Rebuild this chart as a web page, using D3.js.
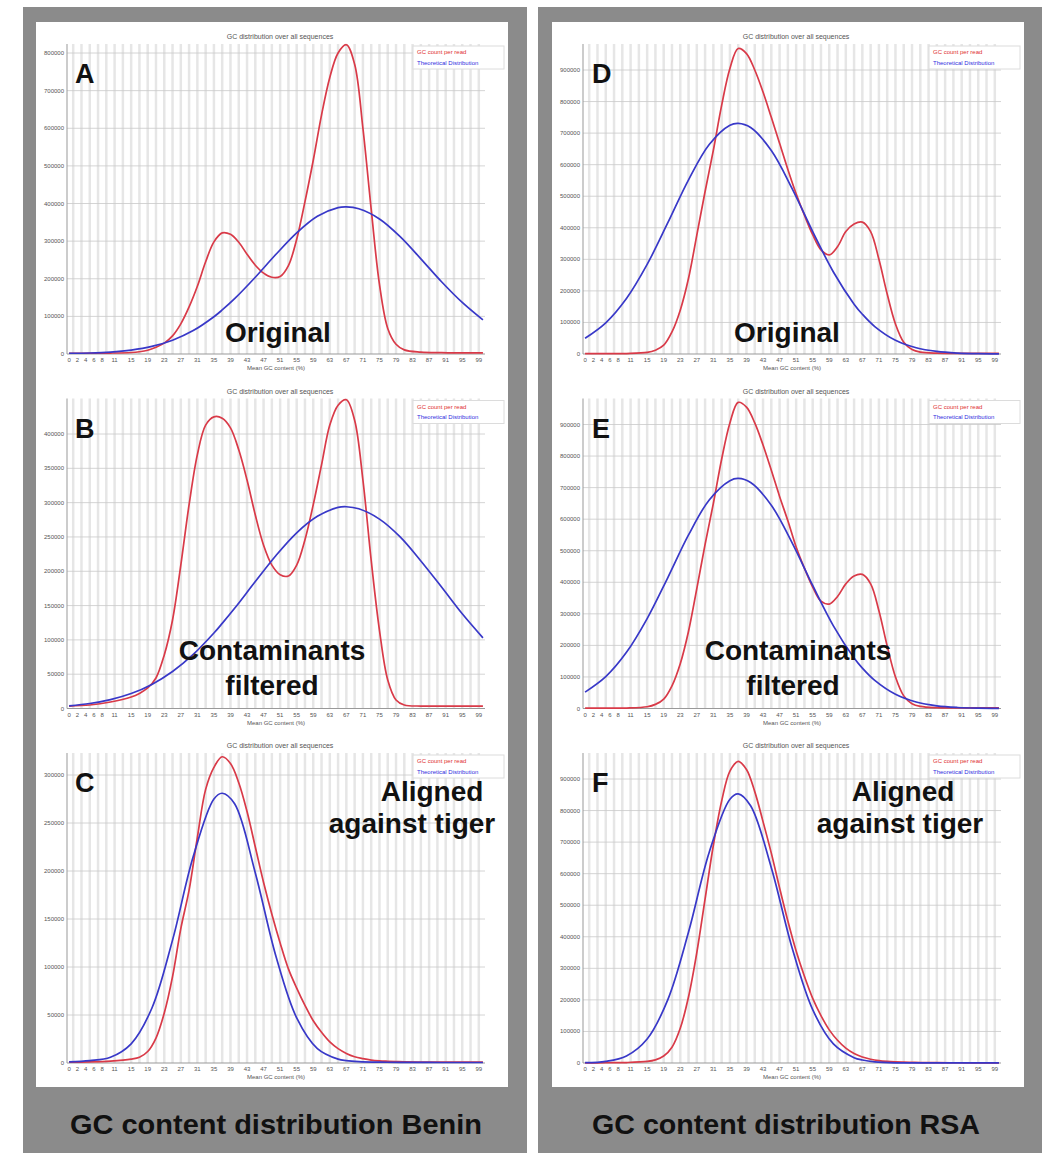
<!DOCTYPE html>
<html>
<head>
<meta charset="utf-8">
<script src="https://d3js.org/d3.v7.min.js"></script>
<style>
  body { margin: 0; background: #fff; }
  svg { display: block; }
</style>
</head>
<body>
<script>
/*
GC content distribution, Benin vs RSA
1. Data
2. Layout of the two grey panels
3. One FastQC style line chart per letter
*/

/////////////////////////////////////////////////////////////////////////////

/*
1. Data
*/

// x tick labels shown under every plot (mean GC %)
const gcLabels = [0, 2, 4, 6, 8, 11, 15, 19, 23, 27, 31, 35, 39, 43, 47, 51, 55, 59, 63, 67, 71, 75, 79, 83, 87, 91, 95, 99];

// GC % where the red curve was read
const redGc = [0, 5, 10, 15, 17, 19, 21, 23, 25, 27, 29, 31, 33, 35, 37, 39, 41, 43, 45, 47, 49, 51, 53, 55, 57, 59, 61, 63, 65, 67, 69, 71, 73, 75, 77, 79, 81, 85, 90, 95, 100];
// GC % where the blue (theoretical) curve was read
const blueGc = [0, 5, 10, 15, 20, 25, 30, 35, 37, 40, 45, 50, 55, 60, 65, 67, 70, 75, 80, 85, 90, 95, 100];

// Benin
const redA = [2000, 2000, 2500, 4000, 6000, 10000, 18000, 29000, 48000, 80000, 125000, 180000, 245000, 298000, 322000, 318000, 297000, 265000, 236000, 215000, 204000, 206000, 235000, 305000, 405000, 515000, 635000, 735000, 800000, 822000, 770000, 600000, 385000, 185000, 68000, 26000, 11000, 5000, 3500, 3000, 3000];
const blueA = [2000, 2600, 5000, 10400, 20200, 36600, 62200, 99000, 117000, 147000, 204000, 265000, 322000, 366000, 389000, 391000, 386000, 359000, 312000, 253000, 192000, 137000, 90500];

const redB = [3600, 5100, 9500, 16800, 22000, 29900, 44500, 78000, 129000, 209000, 297000, 370000, 413000, 425000, 423000, 409000, 377000, 333000, 282000, 238000, 209000, 195000, 193000, 209000, 246000, 297000, 355000, 413000, 442000, 450000, 420000, 333000, 216000, 114000, 41500, 12400, 5100, 3600, 3600, 3600, 3600];
const blueB = [3900, 7300, 13000, 21800, 35100, 53900, 78800, 110000, 124000, 146000, 185000, 223000, 256000, 280000, 293000, 294000, 291000, 276000, 250000, 215000, 177000, 138000, 103000];

const redC = [1000, 1200, 2000, 4000, 6000, 12000, 26000, 52000, 90000, 140000, 180000, 235000, 285000, 308000, 319000, 312000, 292000, 262000, 225000, 188000, 155000, 125000, 98000, 78000, 60000, 44000, 32000, 22000, 15000, 10000, 6500, 4500, 3000, 2200, 1800, 1500, 1300, 1000, 1000, 1000, 1000];
const blueC = [1200, 2500, 6000, 20000, 57000, 128000, 215000, 275000, 281000, 270000, 198000, 111000, 47000, 15000, 4000, 2500, 1500, 900, 700, 600, 500, 500, 500];

// RSA
const redD = [1000, 1000, 1500, 5000, 12000, 28000, 70000, 139000, 240000, 377000, 515000, 646000, 788000, 905000, 968000, 952000, 900000, 830000, 750000, 668000, 585000, 508000, 440000, 378000, 330000, 314000, 340000, 388000, 412000, 418000, 388000, 300000, 190000, 95000, 37000, 14000, 6000, 2500, 2000, 2000, 2000];
const blueD = [50000, 99000, 176000, 284000, 416000, 552000, 664000, 725000, 731000, 718000, 645000, 525000, 388000, 260000, 158000, 126000, 87000, 43500, 19700, 8100, 3000, 1000, 500];

const redE = [1000, 1000, 1500, 5500, 13000, 30000, 72000, 142000, 245000, 380000, 520000, 650000, 790000, 905000, 970000, 955000, 905000, 835000, 755000, 672000, 595000, 512000, 445000, 385000, 340000, 331000, 355000, 395000, 420000, 425000, 395000, 310000, 198000, 100000, 40000, 15000, 6500, 2500, 2000, 2000, 2000];
const blueE = [52000, 101000, 178000, 285000, 415000, 550000, 661000, 722000, 729000, 716000, 644000, 526000, 390000, 262000, 160000, 128000, 89000, 45000, 20500, 8500, 3200, 1100, 500];

const redF = [500, 800, 1500, 5000, 10000, 22000, 50000, 110000, 210000, 350000, 520000, 690000, 830000, 925000, 956000, 930000, 860000, 765000, 665000, 555000, 450000, 355000, 275000, 205000, 150000, 105000, 72000, 47000, 30000, 19000, 12000, 7500, 5000, 3500, 2500, 2000, 1500, 1000, 800, 700, 600];
const blueF = [900, 5100, 22300, 76000, 201000, 415000, 668000, 836000, 853000, 815000, 619000, 366000, 169000, 60500, 16900, 9500, 3700, 600, 200, 200, 200, 200, 200];

const panelTitles = ["GC content distribution Benin", "GC content distribution RSA"];

/////////////////////////////////////////////////////////////////////////////

/*
2. Layout
*/

const W = 1045, H = 1153;
const rowStep = 354.5;      // vertical distance between the three plots
const panelShift = 516;     // right panel is the left one moved across

const svg = d3.select("body").append("svg")
  .attr("width", W)
  .attr("height", H)
  .attr("viewBox", `0 0 ${W} ${H}`);

// grey frames with white insides
[0, 1].forEach(p => {
  const dx = p * panelShift;
  svg.append("rect")
    .attr("x", 23 + dx - (p ? 1 : 0)).attr("y", 7)
    .attr("width", 504).attr("height", H - 7)
    .attr("fill", "#8b8b8b");
  svg.append("rect")
    .attr("x", 36 + dx).attr("y", 22)
    .attr("width", 472).attr("height", 1065)
    .attr("fill", "#ffffff");
  svg.append("text")
    .attr("x", 276 + dx - (p ? 6 : 0))
    .attr("y", 1134)
    .attr("text-anchor", "middle")
    .attr("textLength", p ? 388 : 412)
    .attr("lengthAdjust", "spacingAndGlyphs")
    .style("font-family", "Liberation Sans, Arial, sans-serif")
    .style("font-weight", "bold")
    .style("font-size", "28px")
    .style("fill", "#111")
    .text(panelTitles[p]);
});

/////////////////////////////////////////////////////////////////////////////

/*
3. Charts
*/

const charts = [
  { panel: 0, row: 0, letter: "A", red: redA, blue: blueA, max: 800000, step: 100000, topY: 53,
    notes: [{ t: "Original", x: 278, y: 342 }] },
  { panel: 0, row: 1, letter: "B", red: redB, blue: blueB, max: 400000, step: 50000, topY: 434,
    notes: [{ t: "Contaminants", x: 272, y: 660 }, { t: "filtered", x: 272, y: 695 }] },
  { panel: 0, row: 2, letter: "C", red: redC, blue: blueC, max: 300000, step: 50000, topY: 775,
    notes: [{ t: "Aligned", x: 432, y: 801 }, { t: "against tiger", x: 412, y: 833 }] },
  { panel: 1, row: 0, letter: "D", red: redD, blue: blueD, max: 900000, step: 100000, topY: 70,
    notes: [{ t: "Original", x: 787, y: 342 }] },
  { panel: 1, row: 1, letter: "E", red: redE, blue: blueE, max: 900000, step: 100000, topY: 424.5,
    notes: [{ t: "Contaminants", x: 798, y: 660 }, { t: "filtered", x: 793, y: 695 }] },
  { panel: 1, row: 2, letter: "F", red: redF, blue: blueF, max: 900000, step: 100000, topY: 779,
    notes: [{ t: "Aligned", x: 903, y: 801 }, { t: "against tiger", x: 900, y: 833 }] }
];

const smallFont = "Liberation Sans, Arial, sans-serif";

charts.forEach(c => drawChart(c));

function drawChart(c) {
  const dx = c.panel * panelShift;
  const dy = c.row * rowStep;
  const left = 67 + dx, right = 485 + dx;
  const base = 354 + dy, top = 44 + dy;

  const g = svg.append("g");

  // one category per GC percent, 0..100
  const x = d3.scaleLinear().domain([-0.5, 100.5]).range([left, right]);
  const bw = x(1) - x(0);
  const y = d3.scaleLinear().domain([0, c.max]).range([base, c.topY]);

  // alternating stripes, FastQC style
  g.selectAll(".stripe")
    .data(d3.range(1, 101, 2))
    .enter().append("rect")
    .attr("x", i => x(i) - bw * 0.3)
    .attr("y", top)
    .attr("width", bw * 0.6)
    .attr("height", base - top)
    .attr("fill", "#e6e6e6");

  // horizontal grid + y labels
  const ticks = d3.range(0, c.max + 1, c.step);
  g.selectAll(".grid")
    .data(ticks.slice(1))
    .enter().append("line")
    .attr("x1", left).attr("x2", right)
    .attr("y1", d => y(d)).attr("y2", d => y(d))
    .attr("stroke", "#c9c9c9")
    .attr("stroke-width", 0.8);

  g.selectAll(".ylab")
    .data(ticks)
    .enter().append("text")
    .attr("x", left - 3)
    .attr("y", d => y(d) + 2)
    .attr("text-anchor", "end")
    .style("font-family", smallFont)
    .style("font-size", "6px")
    .style("fill", "#555")
    .text(d => d3.format("d")(d));

  // axes
  g.append("line")
    .attr("x1", left).attr("x2", left)
    .attr("y1", top).attr("y2", base)
    .attr("stroke", "#999").attr("stroke-width", 1);
  g.append("line")
    .attr("x1", left).attr("x2", right)
    .attr("y1", base).attr("y2", base)
    .attr("stroke", "#999").attr("stroke-width", 1);

  g.selectAll(".xlab")
    .data(gcLabels)
    .enter().append("text")
    .attr("x", d => x(d))
    .attr("y", base + 8)
    .attr("text-anchor", "middle")
    .style("font-family", smallFont)
    .style("font-size", "6px")
    .style("fill", "#555")
    .text(d => d);

  g.append("text")
    .attr("x", (left + right) / 2)
    .attr("y", base + 16)
    .attr("text-anchor", "middle")
    .style("font-family", smallFont)
    .style("font-size", "6px")
    .style("fill", "#555")
    .text("Mean GC content (%)");

  g.append("text")
    .attr("x", (left + right) / 2 + 4)
    .attr("y", 39 + dy)
    .attr("text-anchor", "middle")
    .style("font-family", smallFont)
    .style("font-size", "7px")
    .style("fill", "#555")
    .text("GC distribution over all sequences");

  // curves
  const line = d3.line()
    .x(d => x(d[0]))
    .y(d => y(d[1]))
    .curve(d3.curveCatmullRom.alpha(0.5));

  g.append("path")
    .datum(d3.zip(redGc, c.red))
    .attr("fill", "none")
    .attr("stroke", "#d93a48")
    .attr("stroke-width", 1.7)
    .attr("d", line);

  g.append("path")
    .datum(d3.zip(blueGc, c.blue))
    .attr("fill", "none")
    .attr("stroke", "#3838c8")
    .attr("stroke-width", 1.7)
    .attr("d", line);

  // legend box, top right
  const lg = g.append("g").attr("transform", `translate(${413 + dx},${46 + dy})`);
  lg.append("rect")
    .attr("width", 91).attr("height", 23)
    .attr("fill", "#fff")
    .attr("stroke", "#dcdcdc");
  lg.append("text")
    .attr("x", 4).attr("y", 8)
    .style("font-family", smallFont).style("font-size", "6px")
    .style("fill", "#e03030")
    .text("GC count per read");
  lg.append("text")
    .attr("x", 4).attr("y", 18.5)
    .style("font-family", smallFont).style("font-size", "6px")
    .style("fill", "#3030e0")
    .text("Theoretical Distribution");

  // panel letter
  g.append("text")
    .attr("x", 75 + dx + (c.panel ? 1 : 0))
    .attr("y", 83 + dy)
    .style("font-family", "Liberation Sans, Arial, sans-serif")
    .style("font-weight", "bold")
    .style("font-size", "27px")
    .style("fill", "#111")
    .text(c.letter);

  // big overlay notes
  c.notes.forEach(n => {
    g.append("text")
      .attr("x", n.x)
      .attr("y", n.y)
      .attr("text-anchor", "middle")
      .style("font-family", "Liberation Sans, Arial, sans-serif")
      .style("font-weight", "bold")
      .style("font-size", "28px")
      .style("fill", "#111")
      .text(n.t);
  });
}
</script>
</body>
</html>
